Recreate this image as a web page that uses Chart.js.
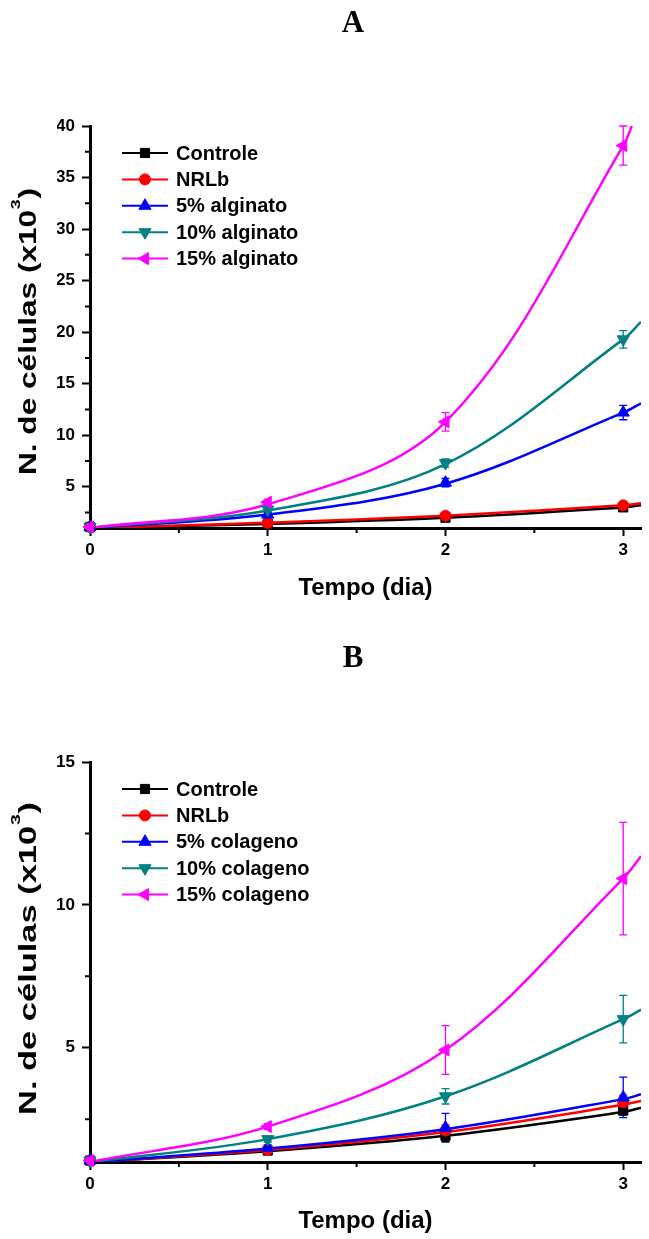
<!DOCTYPE html>
<html>
<head>
<meta charset="utf-8">
<title>N. de células - alginato e colageno</title>
<script src="https://cdn.jsdelivr.net/npm/chart.js@4.4.1/dist/chart.umd.min.js"></script>
<style>
  body { margin: 0; background: #fff; }
  canvas { display: block; }
</style>
</head>
<body>
<canvas id="graficoA" width="649" height="620"></canvas>
<canvas id="graficoB" width="649" height="619"></canvas>
<script>
// eixo x (dias) e ticks
const dias = [0, 1, 2, 3];
const diasAjuste = [0, 1, 2, 3, 3.1];
const ticksDias = [0, 1, 2, 3];
const ticksMenoresDias = [0.5, 1.5, 2.5];

// A - alginato
const rotulosA = ["Controle", "NRLb", "5% alginato", "10% alginato", "15% alginato"];
const controleA = [1.1, 1.4, 2.0, 3.0];
const nrlbA = [1.1, 1.5, 2.2, 3.2];
const alginato5 = [1.1, 2.3, 5.4, 12.2];
const alginato10 = [1.1, 2.8, 7.3, 19.3];
const alginato15 = [1.1, 3.5, 11.3, 38.1];
const erroControleA = [0, 0.1, 0.15, 0.2];
const erroNrlbA = [0, 0.1, 0.2, 0.2];
const erroAlginato5 = [0, 0.2, 0.4, 0.7];
const erroAlginato10 = [0, 0.2, 0.4, 0.85];
const erroAlginato15 = [0, 0.3, 0.9, 1.9];
// curvas de ajuste (x = 0, 1, 2, 3, 3.1)
const ajusteControleA = [1.0, 1.4, 2.0, 3.0, 3.2];
const ajusteNrlbA = [1.0, 1.5, 2.2, 3.2, 3.4];
const ajusteAlginato5 = [1.0, 2.3, 5.3, 12.2, 13.1];
const ajusteAlginato10 = [1.0, 2.7, 7.2, 19.3, 21.0];
const ajusteAlginato15 = [1.0, 3.3, 11.3, 38.1, 43.0];
const ticksA = [5, 10, 15, 20, 25, 30, 35, 40];
const ticksMenoresA = [2.5, 7.5, 12.5, 17.5, 22.5, 27.5, 32.5, 37.5];

// B - colageno
const rotulosB = ["Controle", "NRLb", "5% colageno", "10% colageno", "15% colageno"];
const controleB = [1.05, 1.4, 1.92, 2.8];
const nrlbB = [1.05, 1.43, 2.1, 3.09];
const colageno5 = [1.05, 1.5, 2.2, 3.26];
const colageno10 = [1.05, 1.8, 3.3, 6.0];
const colageno15 = [1.05, 2.24, 4.92, 10.92];
const erroControleB = [0, 0.08, 0.2, 0.15];
const erroNrlbB = [0, 0.08, 0.2, 0.25];
const erroColageno5 = [0, 0.1, 0.5, 0.71];
const erroColageno10 = [0, 0.1, 0.27, 0.83];
const erroColageno15 = [0, 0.1, 0.85, 1.97];
const ajusteControleB = [1.0, 1.38, 1.92, 2.75, 2.9];
const ajusteNrlbB = [1.0, 1.42, 2.05, 3.0, 3.14];
const ajusteColageno5 = [1.0, 1.47, 2.15, 3.2, 3.37];
const ajusteColageno10 = [1.0, 1.8, 3.3, 6.0, 6.33];
const ajusteColageno15 = [1.0, 2.24, 4.92, 10.92, 11.7];
const ticksB = [5, 10, 15];
const ticksMenoresB = [2.5, 7.5, 12.5];

// estilos
const cores = ["#000000", "#ff0000", "#0000ff", "#008080", "#ff00ff"];
const estilos = ["rect", "circle", "triangle", "triangle", "triangle"];
const rotacoes = [0, 0, 0, 180, 270];
const raios = [6.5, 5.5, 7, 7, 7];
const fonte = "Arial, 'Liberation Sans', sans-serif";

Chart.defaults.font.family = fonte;
Chart.defaults.color = "#000";

const montarDatasets = (rotulos, series, erros, ajustes) => {
  const marcadores = series.map((valores, i) => ({
    label: rotulos[i],
    data: dias.map((d, j) => ({ x: d, y: valores[j] })),
    erros: erros[i],
    showLine: false,
    borderColor: cores[i],
    pointStyle: estilos[i],
    pointRotation: rotacoes[i],
    pointRadius: raios[i],
    pointBackgroundColor: cores[i],
    pointBorderColor: cores[i],
    pointBorderWidth: 1,
    clip: false,
  }));
  const curvas = ajustes.map((valores, i) => ({
    label: rotulos[i] + " ajuste",
    data: diasAjuste.map((d, j) => ({ x: d, y: valores[j] })),
    borderColor: cores[i],
    borderWidth: 2.5,
    pointRadius: 0,
    tension: 0.35,
    fill: false,
  }));
  // o primeiro dataset fica por cima
  return [...marcadores.reverse(), ...curvas.reverse()];
};

const desenharMarcador = (ctx, i, x, y) => {
  ctx.fillStyle = cores[i];
  ctx.strokeStyle = cores[i];
  ctx.lineWidth = 1;
  if (Chart.helpers && Chart.helpers.drawPoint) {
    Chart.helpers.drawPoint(ctx, { pointStyle: estilos[i], rotation: rotacoes[i], radius: raios[i], borderWidth: 1 }, x, y);
  } else {
    ctx.beginPath();
    ctx.arc(x, y, 5, 0, Math.PI * 2);
    ctx.fill();
  }
};

const barrasErro = {
  id: "barrasErro",
  beforeDatasetsDraw(chart) {
    const { ctx, scales: { x, y } } = chart;
    chart.data.datasets.forEach((ds) => {
      if (!ds.erros) return;
      ctx.save();
      ctx.strokeStyle = ds.pointBorderColor;
      ctx.lineWidth = 1.3;
      ds.data.forEach((p, j) => {
        const e = ds.erros[j];
        if (!e) return;
        const px = x.getPixelForValue(p.x);
        const cima = y.getPixelForValue(p.y + e);
        const baixo = y.getPixelForValue(p.y - e);
        ctx.beginPath();
        ctx.moveTo(px, cima); ctx.lineTo(px, baixo);
        ctx.moveTo(px - 4, cima); ctx.lineTo(px + 4, cima);
        ctx.moveTo(px - 4, baixo); ctx.lineTo(px + 4, baixo);
        ctx.stroke();
      });
      ctx.restore();
    });
  },
};

const ticksMenores = {
  id: "ticksMenores",
  afterDraw(chart, args, opts) {
    const { ctx, chartArea, scales: { x, y } } = chart;
    ctx.save();
    ctx.strokeStyle = "#000";
    ctx.lineWidth = 2;
    ctx.beginPath();
    opts.x.forEach((v) => {
      const px = x.getPixelForValue(v);
      ctx.moveTo(px, chartArea.bottom);
      ctx.lineTo(px, chartArea.bottom + 5);
    });
    opts.y.forEach((v) => {
      const py = y.getPixelForValue(v);
      ctx.moveTo(chartArea.left - 5, py);
      ctx.lineTo(chartArea.left, py);
    });
    ctx.stroke();
    ctx.restore();
  },
};

const legendaInterna = {
  id: "legendaInterna",
  afterDraw(chart, args, opts) {
    const { ctx, chartArea } = chart;
    ctx.save();
    opts.rotulos.forEach((texto, i) => {
      const y = chartArea.top + 27 + i * 26.4;
      ctx.strokeStyle = cores[i];
      ctx.lineWidth = 2;
      ctx.beginPath();
      ctx.moveTo(122, y);
      ctx.lineTo(168, y);
      ctx.stroke();
      desenharMarcador(ctx, i, 145, y);
      ctx.fillStyle = "#000";
      ctx.font = "bold 20px " + fonte;
      ctx.textBaseline = "middle";
      ctx.textAlign = "left";
      ctx.fillText(texto, 176, y + 1);
    });
    ctx.restore();
  },
};

const tituloY = {
  id: "tituloY",
  afterDraw(chart, args, o) {
    const ctx = chart.ctx;
    const principal = "N. de células (x10";
    const fontePrin = "bold 23px " + fonte;
    const fonteSup = "bold 13px " + fonte;
    ctx.save();
    ctx.font = fontePrin;
    const wPrin = ctx.measureText(principal).width;
    const wFim = ctx.measureText(")").width;
    ctx.font = fonteSup;
    const wSup = ctx.measureText("3").width + 1;
    ctx.translate(o.x, o.inicio);
    ctx.rotate(-Math.PI / 2);
    ctx.scale(o.comprimento / (wPrin + wSup + wFim), 1);
    ctx.fillStyle = "#000";
    ctx.textBaseline = "alphabetic";
    ctx.textAlign = "left";
    ctx.font = fontePrin;
    ctx.fillText(principal, 0, 0);
    ctx.font = fonteSup;
    ctx.fillText("3", wPrin + 0.5, -16);
    ctx.font = fontePrin;
    ctx.fillText(")", wPrin + wSup, 0);
    ctx.restore();
  },
};

const criarGrafico = (canvas, titulo, datasets, yMax, yTicks, yMenores, lay) => new Chart(canvas, {
  type: "line",
  data: { datasets },
  plugins: [barrasErro, ticksMenores, legendaInterna, tituloY],
  options: {
    responsive: false,
    animation: false,
    events: [],
    layout: { padding: { left: 57, right: 0, top: 0, bottom: lay.padBaixo } },
    plugins: {
      legend: { display: false },
      tooltip: { enabled: false },
      title: {
        display: true,
        text: titulo,
        color: "#000",
        font: { family: "'Times New Roman', 'Liberation Serif', serif", size: 31, weight: "bold", lineHeight: 1 },
        padding: { top: lay.tituloCima, bottom: lay.tituloBaixo },
      },
      ticksMenores: { x: ticksMenoresDias, y: yMenores },
      legendaInterna: { rotulos: lay.rotulos },
      tituloY: { x: 36, inicio: lay.yInicio, comprimento: lay.yComprimento },
    },
    scales: {
      x: {
        type: "linear",
        min: 0,
        max: 3.1,
        afterBuildTicks: (s) => { s.ticks = ticksDias.map((v) => ({ value: v })); },
        afterFit: (s) => { s.height = lay.alturaX; },
        ticks: { font: { size: 17, weight: "bold" }, padding: 4, color: "#000", maxRotation: 0 },
        grid: { drawOnChartArea: false, tickLength: 8, tickWidth: 2, tickColor: "#000" },
        border: { display: true, width: 3, color: "#000" },
        title: {
          display: true,
          text: "Tempo (dia)",
          color: "#000",
          font: { size: 24, weight: "bold", lineHeight: 1 },
          padding: 0,
        },
      },
      y: {
        type: "linear",
        min: 1,
        max: yMax,
        afterBuildTicks: (s) => { s.ticks = yTicks.map((v) => ({ value: v })); },
        afterFit: (s) => { s.width = 33; },
        ticks: { font: { size: 17, weight: "bold" }, padding: 7, color: "#000" },
        grid: { drawOnChartArea: false, tickLength: 8, tickWidth: 2, tickColor: "#000" },
        border: { display: true, width: 3, color: "#000" },
      },
    },
  },
});

criarGrafico(
  document.querySelector("#graficoA"),
  "A",
  montarDatasets(
    rotulosA,
    [controleA, nrlbA, alginato5, alginato10, alginato15],
    [erroControleA, erroNrlbA, erroAlginato5, erroAlginato10, erroAlginato15],
    [ajusteControleA, ajusteNrlbA, ajusteAlginato5, ajusteAlginato10, ajusteAlginato15]
  ),
  40, ticksA, ticksMenoresA,
  { padBaixo: 19.5, alturaX: 72.5, tituloCima: 8, tituloBaixo: 87, rotulos: rotulosA, yInicio: 475, yComprimento: 287 }
);

criarGrafico(
  document.querySelector("#graficoB"),
  "B",
  montarDatasets(
    rotulosB,
    [controleB, nrlbB, colageno5, colageno10, colageno15],
    [erroControleB, erroNrlbB, erroColageno5, erroColageno10, erroColageno15],
    [ajusteControleB, ajusteNrlbB, ajusteColageno5, ajusteColageno10, ajusteColageno15]
  ),
  15, ticksB, ticksMenoresB,
  { padBaixo: 5.5, alturaX: 71.5, tituloCima: 23.5, tituloBaixo: 87.5, rotulos: rotulosB, yInicio: 495, yComprimento: 313 }
);
</script>
</body>
</html>
